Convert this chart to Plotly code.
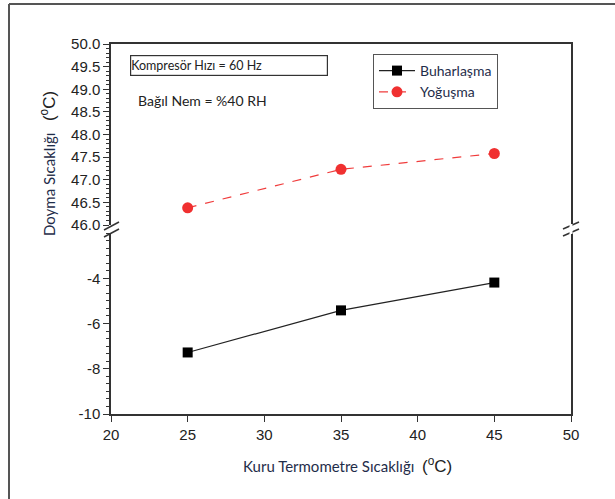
import plotly.graph_objects as go

# ---- data ----
x_temp = [25, 35, 45]
buharlasma = [-7.28, -5.42, -4.19]
yogusma = [46.38, 47.23, 47.58]
x_ticks = [20, 25, 30, 35, 40, 45, 50]
upper_ticks = [46.0, 46.5, 47.0, 47.5, 48.0, 48.5, 49.0, 49.5, 50.0]
lower_ticks = [-10, -8, -6, -4]
lower_labels = ["-10", "-8", "-6", "-4"]

W, H = 615, 499
L, R, T, B = 111, 571, 44, 414
PW, PH = R - L, B - T


def px(xp):
    return (xp - L) / PW


def py(yp):
    return (B - yp) / PH


lower_dom = [0, py(233)]
upper_dom = [py(225), 1]

NAVY = "#1f2d4a"
AX = "#333333"
TXT = "#222222"
TFONT = "Lato"

fig = go.Figure()
fig.add_trace(go.Scatter(
    x=x_temp, y=buharlasma, name="Buharlaşma", mode="lines+markers",
    line=dict(color="#222222", width=1.2),
    marker=dict(symbol="square", size=10, color="black"),
    xaxis="x", yaxis="y"))
fig.add_trace(go.Scatter(
    x=x_temp, y=yogusma, name="Yoğuşma", mode="lines+markers",
    line=dict(color="#f03c3c", width=1.2, dash="dash"),
    marker=dict(symbol="circle", size=11, color="#f03030"),
    xaxis="x2", yaxis="y2"))

axcommon = dict(showline=True, linecolor=AX, linewidth=1.5, showgrid=False,
                zeroline=False, ticks="outside", tickcolor=AX, tickwidth=1.2)

fig.update_layout(
    width=W, height=H, paper_bgcolor="white", plot_bgcolor="white",
    margin=dict(l=L, r=W - R, t=T, b=H - B),
    showlegend=True,
    xaxis=dict(**axcommon, range=[20, 50], tickvals=x_ticks, ticklen=6,
               anchor="y", domain=[0, 1],
               tickfont=dict(family="Liberation Sans", size=15, color=TXT)),
    xaxis2=dict(range=[20, 50], anchor="y2", side="top", showline=True,
                linecolor=AX, linewidth=1.5, showticklabels=False, ticks="",
                showgrid=False, zeroline=False, domain=[0, 1], matches="x"),
    yaxis=dict(**axcommon, domain=lower_dom, range=[-10, -2], tickvals=lower_ticks,
               ticktext=lower_labels, ticklen=6, mirror=True, anchor="x",
               minor=dict(dtick=2/6, tick0=-10, ticks="outside", ticklen=3,
                          tickcolor=AX, tickwidth=1, showgrid=False),
               tickfont=dict(family="Liberation Sans", size=15, color=TXT)),
    yaxis2=dict(**axcommon, domain=upper_dom, range=[46, 50], tickvals=upper_ticks,
                tickformat=".1f", ticklen=6, mirror=True, anchor="x2",
                minor=dict(dtick=0.1, tick0=46, ticks="outside", ticklen=3,
                           tickcolor=AX, tickwidth=1, showgrid=False),
                tickfont=dict(family="Liberation Sans", size=15, color=TXT)),
    legend=dict(x=px(373), y=py(54), xanchor="left", yanchor="top",
                bordercolor="#555555", borderwidth=1, bgcolor="white",
                font=dict(family=TFONT, size=14, color=NAVY),
                tracegroupgap=0, itemwidth=36),
)

annots = [
    dict(text="Kompresör Hızı = 60 Hz", x=px(130), y=py(65.5), xanchor="left",
         yanchor="middle", align="left", width=196, height=19,
         bordercolor="#333333", borderwidth=1.2, borderpad=0,
         font=dict(family=TFONT, size=12.5, color="#222222")),
    dict(text="Bağıl Nem = %40 RH", x=px(136), y=py(100), xanchor="left",
         yanchor="middle", font=dict(family=TFONT, size=14, color="#222222")),
    dict(text="Doyma Sıcaklığı   <span style=\"font-family:'Liberation Sans';font-size:17px;color:#222\">(<sup>o</sup>C)</span>",
         x=px(48), y=py(164), xanchor="center", yanchor="middle", textangle=-90,
         font=dict(family=TFONT, size=15, color=NAVY)),
    dict(text="Kuru Termometre Sıcaklığı  <span style=\"font-family:'Liberation Sans';font-size:17px;color:#222\">(<sup>o</sup>C)</span>",
         x=px(347), y=py(465), xanchor="center", yanchor="middle",
         font=dict(family=TFONT, size=15, color=NAVY)),
]
for a in annots:
    a.update(xref="paper", yref="paper", showarrow=False)
    fig.add_annotation(**a)

# axis break marks and page frame (decorations)
seg = [
    ((104, 230), (119, 222)),
    ((104, 237), (119, 229)),
    ((563, 229), (579, 222)),
    ((563, 236), (579, 229)),
]
for (x0, y0), (x1, y1) in seg:
    fig.add_shape(type="line", xref="paper", yref="paper",
                  x0=px(x0), y0=py(y0), x1=px(x1), y1=py(y1),
                  line=dict(color=AX, width=1.5))
# white gap over right axis at break
fig.add_shape(type="line", xref="paper", yref="paper",
              x0=px(571), y0=py(224), x1=px(571), y1=py(234),
              line=dict(color="white", width=3), layer="above")
for (x0, y0), (x1, y1) in [((9, 4), (9, 499)), ((9, 4), (615, 4))]:
    fig.add_shape(type="line", xref="paper", yref="paper",
                  x0=px(x0), y0=py(y0), x1=px(x1), y1=py(y1),
                  line=dict(color="#555555", width=2))

fig.write_html("out.html", config={"displayModeBar": False},
               post_script="document.body.style.margin='0';document.body.style.overflow='hidden';")
